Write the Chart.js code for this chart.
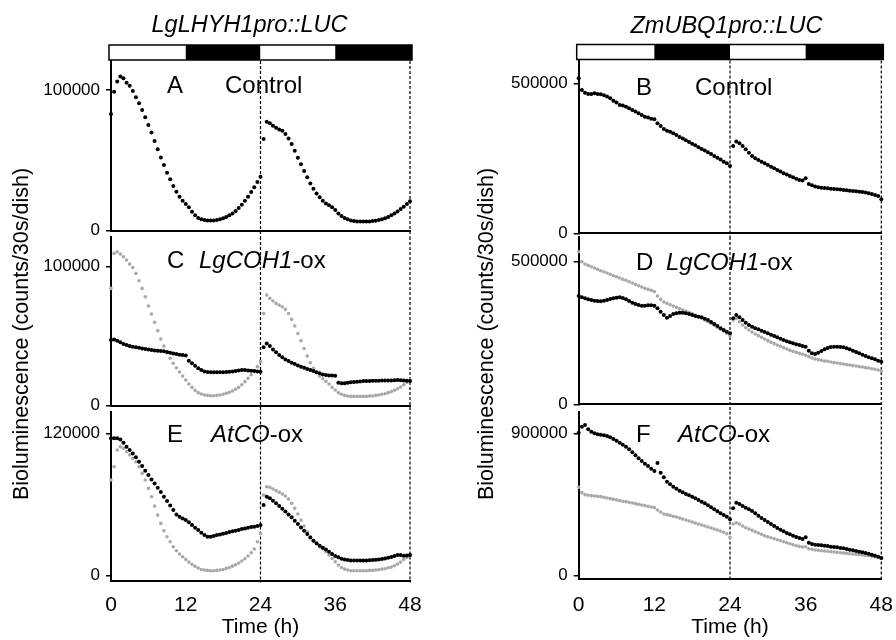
<!DOCTYPE html>
<html>
<head>
<meta charset="utf-8">
<script src="https://cdn.jsdelivr.net/npm/chart.js@4.4.1/dist/chart.umd.min.js"></script>
<style>
  html, body { margin: 0; padding: 0; background: #fff; }
  #fig { position: relative; width: 896px; height: 640px; overflow: hidden;
         font-family: "Liberation Sans", Arial, sans-serif; color: #000; }
  #fig canvas { position: absolute; }
  .t { position: absolute; white-space: nowrap; }
  .head { font-size: 23.5px; line-height: 23.5px; font-style: italic; width: 300px; text-align: center; }
  .lab { font-size: 24px; line-height: 24px; }
  .ytitle { font-size: 21.5px; line-height: 26px; height: 26px; width: 420px; text-align: center;
            transform: rotate(-90deg); transform-origin: 50% 50%; }
</style>
</head>
<body>
<div id="fig">
  <canvas id="pA"></canvas>
  <canvas id="pC"></canvas>
  <canvas id="pE"></canvas>
  <canvas id="pB"></canvas>
  <canvas id="pD"></canvas>
  <canvas id="pF"></canvas>

  <div class="t head" style="left:99.5px; top:13px;">LgLHYH1pro::LUC</div>
  <div class="t head" style="left:576.5px; top:13.5px;">ZmUBQ1pro::LUC</div>

  <div class="t lab" style="left:167px; top:72.7px;">A</div>
  <div class="t lab" style="left:225px; top:72.7px;">Control</div>
  <div class="t lab" style="left:636px; top:74.7px;">B</div>
  <div class="t lab" style="left:695px; top:74.7px;">Control</div>

  <div class="t lab" style="left:167px; top:247.7px;">C</div>
  <div class="t lab" style="left:199px; top:247.7px;"><i>LgCOH1</i>-ox</div>
  <div class="t lab" style="left:636px; top:249.7px;">D</div>
  <div class="t lab" style="left:666px; top:249.7px;"><i>LgCOH1</i>-ox</div>

  <div class="t lab" style="left:167px; top:421.7px;">E</div>
  <div class="t lab" style="left:211px; top:421.7px;"><i>AtCO</i>-ox</div>
  <div class="t lab" style="left:636px; top:421.7px;">F</div>
  <div class="t lab" style="left:678px; top:421.7px;"><i>AtCO</i>-ox</div>

  <div class="t ytitle" style="left:-189.4px; top:321px;">Bioluminescence (counts/30s/dish)</div>
  <div class="t ytitle" style="left:276px; top:321px;">Bioluminescence (counts/30s/dish)</div>
</div>

<script>
// Sampling grid: one reading every 30 min over two days.
const hours = Array.from({ length: 97 }, (_, i) => i / 2);

// Day/night schedule shown above the top panels and the day boundaries.
const photoperiod = [[0, 12, 'light'], [12, 24, 'dark'], [24, 36, 'light'], [36, 48, 'dark']];
const dayBoundaries = [24, 48];
const timeTicks = [0, 12, 24, 36, 48];

// ---- LgLHYH1pro::LUC ----
// A: control
const lhyControl = [
  83000, 98800, 106000, 109500, 108300, 105200, 103000, 99300, 94800, 90500,
  85800, 80600, 75100, 69700, 63700, 57800, 52100, 46700, 41200, 36500,
  31800, 27700, 24200, 21300, 19000, 16600, 13500, 10900, 9000, 8100,
  7600, 7300, 7300, 7300, 7600, 8100, 8800, 9700, 10900, 12300,
  14000, 16100, 18500, 21300, 24200, 27500, 30800, 34600, 38400,
  65200, 77500, 76300, 74600, 73200, 72000, 71100, 68700, 65600, 61600,
  56900, 51900, 47200, 42400, 37900, 33600, 29900, 26500, 23700, 21300,
  19400, 18000, 16600, 14700, 12300, 10400, 9000, 8100, 7300, 6900,
  6600, 6600, 6600, 6600, 6600, 6900, 7100, 7600, 8100, 8800,
  9700, 10900, 12300, 13700, 15400, 17100, 19000, 20900
];
// C: LgCOH1-ox (black) and wild type (grey)
const lhyCohOx = [
  47200, 47700, 46800, 45600, 44400, 43600, 42900, 42400, 42000, 41700,
  41200, 40800, 40500, 40000, 39800, 39600, 39300, 39100, 38600, 38100,
  37600, 37200, 36700, 36500, 36200, 32400, 30500, 28800, 26900, 25700,
  24700, 24200, 24000, 24000, 24000, 24000, 24000, 24200, 24500, 24700,
  24900, 25400, 25700, 25700, 25400, 25200, 24900, 24700, 24500,
  42000, 44800, 42900, 40500, 38400, 36500, 34800, 33300, 32100, 30900,
  30000, 29000, 28100, 27300, 26400, 25700, 24900, 24000, 23300, 22500,
  22100, 21800, 21800, 21600, 16500, 16100, 16100, 16500, 16800, 17000,
  17300, 17500, 17700, 17700, 17800, 18000, 18000, 18000, 18200, 18200,
  18200, 18200, 18400, 18500, 18400, 18200, 18000, 17700
];
const lhyCohWt = [
  84400, 109600, 110800, 109100, 107200, 104800, 101900, 99500, 95200, 89900,
  84400, 78400, 71700, 65900, 60000, 54000, 48000, 42900, 38100, 34100,
  30500, 27300, 24200, 21300, 18500, 15600, 13200, 11000, 9400, 8400,
  7700, 7400, 7200, 7200, 7400, 7700, 8200, 8900, 9600, 10600,
  11800, 13200, 15100, 17300, 19700, 22300, 25200, 28100, 31700,
  66400, 79600, 77200, 75300, 73600, 72400, 71200, 69300, 66400, 62100,
  57300, 52000, 46800, 41200, 35700, 30900, 26900, 23700, 21300, 19400,
  17500, 15600, 13200, 11300, 9400, 8200, 7400, 7000, 6700, 6700,
  6700, 6700, 6700, 6700, 6900, 7000, 7400, 7700, 8200, 8600,
  9400, 10100, 11100, 12200, 13400, 15100, 16800, 18500
];
// E: AtCO-ox (black) and wild type (grey)
const lhyCoOx = [
  115800, 115800, 115800, 114900, 112100, 108800, 106000, 103100, 99800, 96100,
  92500, 88500, 84900, 81200, 77800, 74200, 70500, 66600, 63000, 59300,
  55400, 51700, 49700, 48300, 46900, 45000, 42700, 40500, 38500, 36300,
  34300, 32900, 32900, 33400, 34300, 34800, 35400, 36000, 36800, 37400,
  37900, 38500, 39300, 39900, 40500, 41000, 41300, 41900, 42700,
  59600, 66600, 65200, 63200, 61000, 58700, 56500, 54200, 51700, 49200,
  46400, 43600, 40700, 37900, 35100, 32300, 29500, 27300, 25300, 23600,
  22200, 20200, 18300, 16600, 15500, 14300, 13800, 13200, 12900, 12900,
  12900, 12900, 12900, 12900, 13000, 13200, 13500, 13800, 14200, 14600,
  15100, 15700, 16600, 17400, 17400, 16900, 17100, 17400
];
const lhyCoWt = [
  80700, 91900, 106000, 108800, 107400, 104500, 101700, 98900, 96100, 91900,
  86300, 80700, 73600, 66600, 58700, 51100, 44100, 37900, 32900, 28700,
  24400, 21100, 18300, 16000, 13800, 11500, 9600, 7900, 6500, 5300,
  4800, 4500, 4200, 4200, 4500, 4800, 5300, 6200, 7000, 8100,
  9300, 10700, 12400, 14300, 16600, 19400, 22500, 28700, 35700,
  68000, 75000, 74500, 73100, 71700, 70300, 68900, 67200, 64600, 61000,
  56800, 52000, 46900, 41900, 37100, 32900, 29500, 26700, 24400, 22500,
  20200, 17400, 14600, 11800, 9000, 7000, 5600, 4800, 4200, 4200,
  4200, 4200, 4200, 4200, 4500, 4500, 4800, 5100, 5600, 5900,
  6700, 7300, 8400, 9800, 11500, 13800, 15400, 17100
];

// ---- ZmUBQ1pro::LUC ----
// B: control
const ubqControl = [
  516700, 477800, 468900, 464400, 464400, 466700, 464400, 463300, 460000, 455600,
  450000, 442200, 435600, 427800, 425600, 422200, 416700, 411100, 405600, 400000,
  394400, 388900, 385600, 382200, 380000, 366700, 357800, 347800, 342200, 338900,
  333300, 327800, 321100, 315600, 310000, 304400, 298900, 293300, 286700, 281100,
  275600, 270000, 264400, 257800, 252200, 245600, 238900, 233300, 224400,
  291100, 305600, 300000, 291100, 280000, 268900, 257800, 250000, 244400, 238900,
  233300, 227800, 222200, 216700, 211100, 205600, 200000, 195600, 191100, 186700,
  182200, 177800, 175600, 183300, 164400, 160000, 155600, 153300, 152200, 151100,
  150000, 148900, 147800, 146700, 145600, 144400, 143300, 142200, 141100, 140000,
  138900, 137800, 135600, 133300, 131100, 127800, 124400, 113300
];
// D: LgCOH1-ox (black) and wild type (grey)
const ubqCohOx = [
  379700, 375000, 371500, 368000, 365700, 363300, 362000, 361000, 363300, 366000,
  369000, 372000, 374000, 375000, 373000, 368000, 362000, 356300, 351600, 348100,
  345800, 345800, 347000, 347000, 345800, 336400, 324800, 313100, 303700, 309600,
  316600, 318900, 321300, 321300, 318900, 316600, 313100, 309600, 307200, 304900,
  300200, 295600, 288600, 281500, 274500, 266400, 260500, 254700, 248800,
  301400, 313100, 304900, 295600, 286200, 278000, 272200, 266400, 262900, 258200,
  253500, 248800, 244200, 239500, 234800, 230100, 225500, 220800, 217300, 213800,
  210300, 207900, 204400, 202100, 188100, 178700, 176400, 181100, 186900, 192800,
  197400, 200900, 202100, 202100, 200900, 199800, 196300, 192800, 188100, 183400,
  178700, 174100, 169400, 164700, 161200, 157700, 153000, 149500
];
const ubqCohWt = [
  535000, 500000, 491800, 487100, 482500, 477800, 473100, 468500, 464900, 460300,
  455600, 450900, 447400, 442800, 438100, 434600, 429900, 425200, 420600, 415900,
  411200, 406500, 403000, 399500, 394900, 379700, 368000, 358600, 354000, 349300,
  344600, 339900, 335300, 330600, 327100, 322400, 317800, 313100, 307200, 301400,
  295600, 289700, 283900, 276900, 269900, 262900, 255800, 248800, 240700,
  295600, 301400, 289700, 278000, 268700, 260500, 253500, 246500, 240700, 234800,
  229000, 223100, 217300, 212600, 207900, 203300, 198600, 193900, 189300, 185700,
  182200, 178700, 175200, 171700, 167100, 162400, 158900, 156500, 154200, 151900,
  150700, 148400, 146000, 144900, 142500, 141400, 139000, 137900, 135500, 134300,
  132000, 130800, 128500, 127300, 124900, 122700, 120300, 116800
];
// F: AtCO-ox (black) and wild type (grey)
const ubqCoOx = [
  904200, 942100, 952700, 925300, 910500, 900000, 893700, 891600, 887300, 883100,
  874700, 864200, 853600, 841000, 828300, 815700, 798800, 779800, 760900, 741900,
  725000, 708200, 693400, 676600, 661800, 712000, 651000, 621800, 594400, 577500,
  562800, 550100, 537500, 526900, 516400, 508000, 499500, 489000, 478400, 467900,
  457400, 444700, 432100, 419400, 406800, 394100, 383600, 373100, 356200,
  425800, 461600, 453200, 440500, 430000, 419400, 408900, 394100, 379400, 364600,
  352000, 339300, 326700, 314000, 301400, 290900, 280300, 269800, 261400, 252900,
  244500, 238200, 231800, 242400, 208700, 200200, 196000, 193900, 191800, 189700,
  187600, 183400, 181300, 179200, 175000, 172800, 168600, 164400, 160200, 156000,
  151800, 147500, 143300, 139100, 132800, 126500, 120100, 111700
];
const ubqCoWt = [
  558500, 524800, 512200, 508000, 505800, 503700, 501600, 499500, 495300, 491100,
  486900, 482600, 478400, 474200, 470000, 467900, 463700, 459500, 455300, 451000,
  446800, 442600, 438400, 434200, 430000, 415200, 402600, 389900, 385700, 381500,
  375200, 371000, 364600, 358300, 352000, 345600, 339300, 333000, 326700, 320300,
  314000, 307700, 301400, 295100, 288800, 282400, 274000, 265600, 242400,
  326700, 335100, 326700, 314000, 303500, 295100, 286600, 278200, 269800, 261400,
  252900, 246600, 240300, 233900, 227600, 221300, 215000, 208700, 202300, 196000,
  189700, 185500, 181300, 183400, 170700, 166500, 162300, 160200, 158100, 156000,
  153900, 151800, 149700, 147500, 145400, 143300, 141200, 139100, 137000, 134900,
  132800, 130700, 128600, 126500, 122300, 120100, 115900, 111700
];

// Axis ranges and the single labelled tick of each panel.
const yRanges = {
  pA: [0, 120600], pC: [0, 121400], pE: [-4000, 138400],
  pB: [0, 576000], pD: [0, 586600], pF: [-17700, 1037800]
};
const yLabelTicks = { pA: 100000, pC: 100000, pE: 120000, pB: 500000, pD: 500000, pF: 900000 };

const FONT = '"Liberation Sans", Arial, sans-serif';
const BLACK = '#000000';
const GREY = '#a9a9a9';
const Y_AXIS_W = 70;

// Canvas box [x, y, w, h] and plot area [left, top, right, bottom] in page pixels.
const layoutBoxes = {
  pA: { box: [0, 0, 448, 256],     area: [111, 61, 410, 230.7],     bottomRow: false, bar: true,  down: 6, tickPad: 0 },
  pC: { box: [0, 212, 448, 219],   area: [111, 237, 410, 405.7],    bottomRow: false, bar: false, down: 6, tickPad: 0 },
  pE: { box: [0, 386, 448, 254],   area: [111, 411.5, 410, 580.5],  bottomRow: true,  bar: false, down: 2, tickPad: 4 },
  pB: { box: [448, 0, 490, 258],   area: [578.7, 60.5, 881.3, 233.3], bottomRow: false, bar: true,  down: 4, tickPad: 0 },
  pD: { box: [448, 212, 490, 217], area: [578.7, 237, 881.3, 404.3],  bottomRow: false, bar: false, down: 7, tickPad: 0 },
  pF: { box: [448, 386, 490, 254], area: [578.7, 411.5, 881.3, 578.5], bottomRow: true, bar: false, down: 2, tickPad: 6 }
};

const panelSeries = {
  pA: [[lhyControl, BLACK, 2.0]],
  pC: [[lhyCohOx, BLACK, 2.0], [lhyCohWt, GREY, 1.8]],
  pE: [[lhyCoOx, BLACK, 2.0], [lhyCoWt, GREY, 1.8]],
  pB: [[ubqControl, BLACK, 2.0]],
  pD: [[ubqCohOx, BLACK, 2.0], [ubqCohWt, GREY, 1.8]],
  pF: [[ubqCoOx, BLACK, 2.0], [ubqCoWt, GREY, 1.8]]
};

// Dashed vertical lines at the end of each day.
const dayLines = {
  id: 'dayLines',
  beforeDatasetsDraw(chart, args, opts) {
    const { ctx, chartArea: a, scales: { x } } = chart;
    ctx.save();
    ctx.strokeStyle = '#000';
    ctx.lineWidth = 1.2;
    ctx.setLineDash([3, 2]);
    dayBoundaries.forEach(h => {
      const px = x.getPixelForValue(h);
      ctx.beginPath();
      ctx.moveTo(px, a.top);
      ctx.lineTo(px, a.bottom + (opts.down || 0));
      ctx.stroke();
    });
    ctx.restore();
  }
};

// Light (white) / dark (black) bar above the top panels.
const lightBar = {
  id: 'lightBar',
  afterDraw(chart, args, opts) {
    if (!opts.show) return;
    const { ctx, chartArea: a, scales: { x } } = chart;
    const y0 = a.top - 16, h = 15;
    const x0 = x.getPixelForValue(0) - 2, x1 = x.getPixelForValue(48) + 2;
    ctx.save();
    photoperiod.forEach(([s, e, kind]) => {
      const l = s === 0 ? x0 : x.getPixelForValue(s);
      const r = e === 48 ? x1 : x.getPixelForValue(e);
      ctx.fillStyle = kind === 'dark' ? '#000' : '#fff';
      ctx.fillRect(l, y0, r - l, h);
    });
    ctx.lineWidth = 1.5;
    ctx.strokeStyle = '#000';
    ctx.strokeRect(x0, y0, x1 - x0, h);
    ctx.restore();
  }
};

function makePanel(id) {
  const L = layoutBoxes[id];
  const [bx, by, bw, bh] = L.box;
  const [al, at, ar, ab] = L.area;
  const xAxisH = L.bottomRow ? (by + bh - ab) : 0;
  const canvas = document.getElementById(id);
  canvas.width = bw; canvas.height = bh;
  canvas.style.left = bx + 'px'; canvas.style.top = by + 'px';
  canvas.style.width = bw + 'px'; canvas.style.height = bh + 'px';

  const datasets = panelSeries[id].map(([vals, color, r]) => ({
    data: vals.map((v, i) => ({ x: hours[i], y: v })),
    showLine: false,
    pointRadius: r,
    pointHoverRadius: r,
    pointBackgroundColor: color,
    pointBorderWidth: 0,
    clip: false
  }));

  return new Chart(canvas, {
    type: 'scatter',
    data: { datasets },
    options: {
      responsive: false,
      animation: false,
      events: [],
      layout: {
        padding: {
          left: al - bx - Y_AXIS_W,
          top: at - by,
          right: bx + bw - ar,
          bottom: L.bottomRow ? 0 : (by + bh - ab)
        }
      },
      plugins: {
        legend: { display: false },
        tooltip: { enabled: false },
        dayLines: { down: L.down },
        lightBar: { show: L.bar }
      },
      scales: {
        x: {
          type: 'linear', min: 0, max: 48,
          grid: { display: false },
          border: { display: true, color: '#000', width: 2 },
          ticks: {
            display: L.bottomRow, padding: L.tickPad,
            color: '#000', font: { family: FONT, size: 21 }, maxRotation: 0, autoSkip: false
          },
          afterBuildTicks: s => { s.ticks = timeTicks.map(v => ({ value: v })); },
          title: {
            display: L.bottomRow, text: 'Time (h)', color: '#000',
            font: { family: FONT, size: 21 }, padding: 0
          },
          afterFit: s => { s.height = xAxisH; }
        },
        y: {
          min: yRanges[id][0], max: yRanges[id][1],
          grid: { display: true, drawOnChartArea: false, drawTicks: true, tickLength: 5, color: '#000', lineWidth: 1.5 },
          border: { display: true, color: '#000', width: 2 },
          ticks: {
            color: '#000', padding: 6, font: { family: FONT, size: 17 },
            callback: v => String(v)
          },
          afterBuildTicks: s => { s.ticks = [{ value: 0 }, { value: yLabelTicks[id] }]; },
          afterFit: s => { s.width = Y_AXIS_W; }
        }
      }
    },
    plugins: [dayLines, lightBar]
  });
}

['pA', 'pC', 'pE', 'pB', 'pD', 'pF'].forEach(makePanel);
</script>
</body>
</html>
